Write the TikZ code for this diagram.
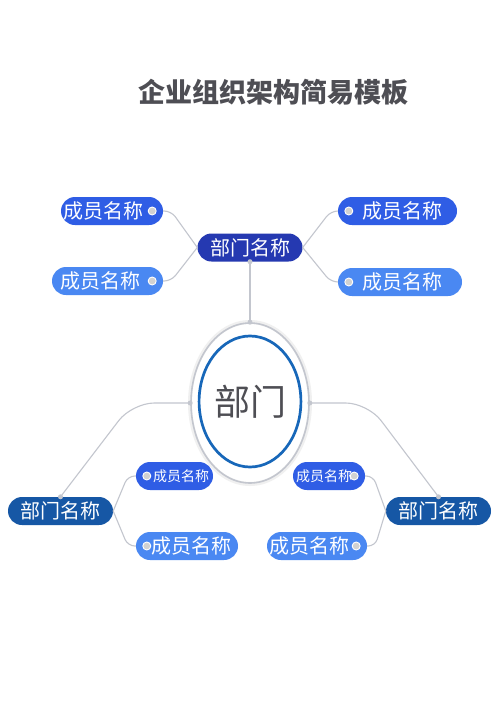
\documentclass[tikz,border=0pt]{standalone}
\usepackage{fontspec}
\setmainfont{Noto Sans CJK SC}
\usetikzlibrary{shapes.geometric, positioning}

\definecolor{depttop}{HTML}{2539B1}
\definecolor{deptlow}{HTML}{1657A5}
\definecolor{mema}{HTML}{2F5DE5}
\definecolor{memb}{HTML}{4A88F2}
\definecolor{wire}{HTML}{C3C6CE}
\definecolor{ring}{HTML}{1767B9}
\definecolor{ink}{HTML}{4E4E54}

\begin{document}
\begin{tikzpicture}[x=1pt, y=1pt, on grid,
    box/.style={rounded corners=14pt, minimum height=28pt, inner xsep=0pt, inner ysep=2pt, text=white, font=\fontsize{20}{20}\selectfont},
    dept/.style={box, fill=#1, minimum width=105pt},
    member/.style={box, fill=#1},
    small/.style={font=\fontsize{14}{14}\selectfont},
    knob/.style={circle, fill=black!18, draw=white, line width=0.9pt, inner sep=0pt, minimum size=8pt},
    pin/.style={circle, fill=wire, inner sep=0pt, minimum size=5pt},
    elbow/.style={to path={-- ++(#1,0) -- (\tikztotarget)}},
    conn/.style={draw=wire, line width=1.1pt, rounded corners=7pt}]
  \useasboundingbox[fill=white] (0,0) rectangle (500,-707);
  \node[ellipse, draw=black!6, line width=4pt, minimum width=120pt, minimum height=162pt] (halo) at (250,-403) {};
  \node[ellipse, draw=wire, line width=1.6pt, minimum width=118pt, minimum height=160pt, inner sep=0pt] (ell) at (250,-403) {};
  \node[ellipse, draw=ring, line width=2.7pt, minimum width=96pt, minimum height=131pt, inner sep=0pt, text=ink, font=\fontsize{36}{36}\selectfont] (core) at (250,-401.5) {部门};
  \node[dept=depttop] (top) [above=155.5pt of ell]            {部门名称};
  \node[font=\fontsize{27}{27}\selectfont\bfseries, text=ink] (title) [above right=155.5pt and 23.5pt of top] {企业组织架构简易模板};
  \node[member=mema] (tl1) [above left=36.5pt and 138pt of top]  {\kern2pt 成员名称\kern20pt};
  \node[member=memb] (tl2) [below left=33.5pt and 142.5pt of top] {\kern9pt 成员名称\kern22pt};
  \node[member=mema] (tr1) [above right=36.5pt and 147.5pt of top] {\kern24pt 成员名称\kern15pt};
  \node[member=memb] (tr2) [below right=34.5pt and 150pt of top]  {\kern24pt 成员名称\kern20pt};
  \node[dept=deptlow] (bl) [below left=108pt and 189.5pt of ell]  {部门名称};
  \node[dept=deptlow] (br) [below right=108pt and 188.5pt of ell] {部门名称};
  \node[member=mema, small] (l1) [above right=35pt and 114pt of bl] {\kern17pt 成员名称\kern4pt};
  \node[member=memb] (l2) [below right=35pt and 126.5pt of bl]      {\kern15pt 成员名称\kern7pt};
  \node[member=mema, small] (r1) [above left=35pt and 109.5pt of br] {\kern3pt 成员名称\kern13pt};
  \node[member=memb] (r2) [below left=35pt and 121.5pt of br]       {\kern2pt 成员名称\kern18pt};
  \path[conn]
    (tl1.east) edge [elbow=8]   (top.west)
    (tl2.east) edge [elbow=8]   (top.west)
    (tr1.west) edge [elbow=-7]  (top.east)
    (tr2.west) edge [elbow=-7]  (top.east)
    (top.south) edge            (ell.north)
    (ell.west) edge [elbow=-58, rounded corners=22pt] (bl.north)
    (ell.east) edge [elbow=58, rounded corners=22pt]  (br.north)
    (l1.west)  edge [elbow=-8]  (bl.east)
    (l2.west)  edge [elbow=-8]  (bl.east)
    (r1.east)  edge [elbow=8]   (br.west)
    (r2.east)  edge [elbow=8]   (br.west);
  \foreach \m in {tl1,tl2,r1,r2}
    \node[knob] (k-\m) at ([xshift=-11pt]\m.east) {};
  \foreach \m in {tr1,tr2,l1,l2}
    \node[knob] (k-\m) at ([xshift=11pt]\m.west) {};
  \foreach \n/\a in {1/top.south,2/ell.north,3/ell.west,4/ell.east,5/bl.north,6/br.north}
    \node[pin] (p\n) at (\a) {};
\end{tikzpicture}
\end{document}
